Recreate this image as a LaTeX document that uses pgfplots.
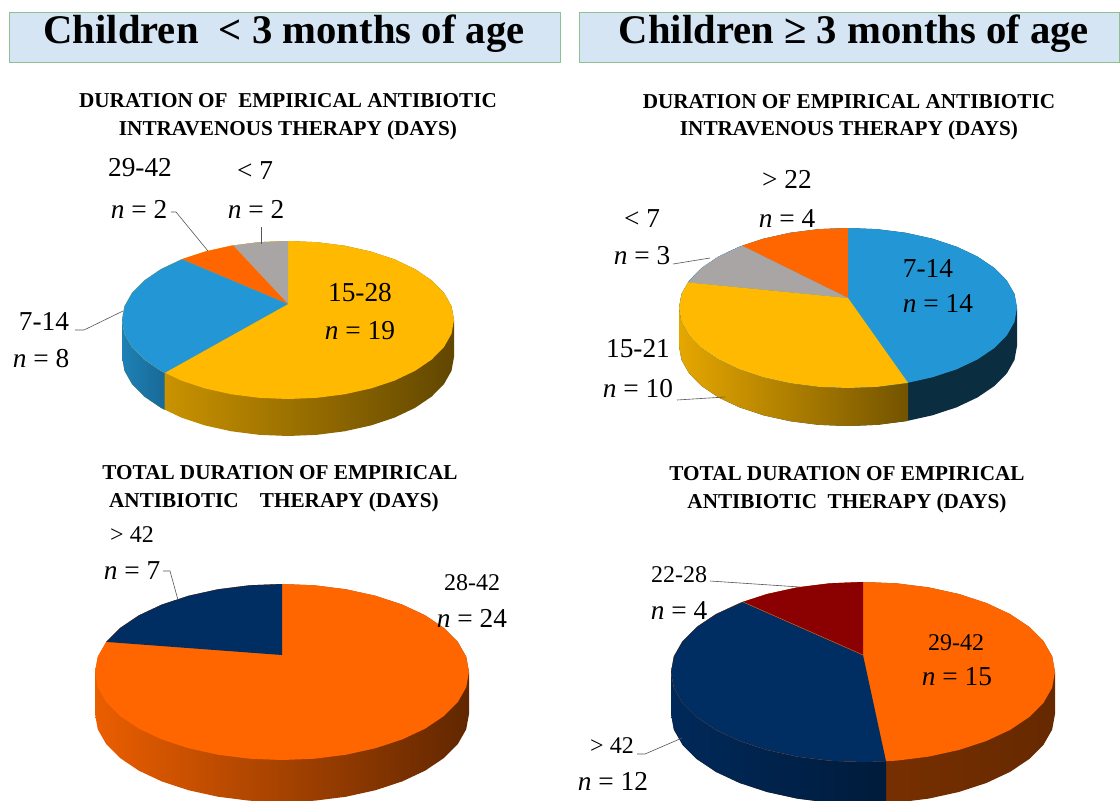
\documentclass[border=0pt]{standalone}
\usepackage{pgfplots}
\pgfplotsset{compat=1.18}
\usepackage{pgfplotstable}
\usepackage{fontspec}
\setmainfont{Liberation Serif}
\definecolor{gold}{HTML}{FFB900}
\definecolor{sky}{HTML}{2397D6}
\definecolor{grayw}{HTML}{A9A5A5}
\definecolor{orng}{HTML}{FF6600}
\definecolor{navy}{HTML}{002D62}
\definecolor{dred}{HTML}{8B0000}
\definecolor{boxf}{HTML}{D6E5F3}
\definecolor{boxe}{HTML}{8FC08F}
\definecolor{lead}{HTML}{555555}
\pgfplotstableread[row sep=\\]{
c s\\
1 0\\ .985 .174\\ .940 .342\\ .866 .5\\ .766 .643\\ .643 .766\\ .5 .866\\ .342 .940\\ .174 .985\\
0 1\\ -.174 .985\\ -.342 .940\\ -.5 .866\\ -.643 .766\\ -.766 .643\\ -.866 .5\\ -.940 .342\\ -.985 .174\\
-1 0\\ -.985 -.174\\ -.940 -.342\\ -.866 -.5\\ -.766 -.643\\ -.643 -.766\\ -.5 -.866\\ -.342 -.940\\ -.174 -.985\\
0 -1\\ .174 -.985\\ .342 -.940\\ .5 -.866\\ .643 -.766\\ .766 -.643\\ .866 -.5\\ .940 -.342\\ .985 -.174\\
}\unitEllipse
\pgfplotstableread[row sep=\\]{
c s d\\
1 0 0\\ .985 .174 0\\ .940 .342 0\\ .866 .5 0\\ .766 .643 0\\ .643 .766 0\\ .5 .866 0\\ .342 .940 0\\ .174 .985 0\\
0 1 0\\ -.174 .985 0\\ -.342 .940 0\\ -.5 .866 0\\ -.643 .766 0\\ -.766 .643 0\\ -.866 .5 0\\ -.940 .342 0\\ -.985 .174 0\\
-1 0 0\\ -1 0 1\\ -.985 -.174 1\\ -.940 -.342 1\\ -.866 -.5 1\\ -.766 -.643 1\\ -.643 -.766 1\\ -.5 -.866 1\\ -.342 -.940 1\\ -.174 -.985 1\\
0 -1 1\\ .174 -.985 1\\ .342 -.940 1\\ .5 -.866 1\\ .643 -.766 1\\ .766 -.643 1\\ .866 -.5 1\\ .940 -.342 1\\ .985 -.174 1\\ 1 0 1\\
}\unitSide
\newcommand{\FullFace}[5]{\addplot[#1,draw=none] table[x expr=#2+#4*\thisrow{c},y expr=#3-#5*\thisrow{s}] \unitEllipse -- cycle;}
\newcommand{\FullSide}[6]{\addplot[#1,draw=none] table[x expr=#2+#4*\thisrow{c},y expr=#3-#5*\thisrow{s}+#6*\thisrow{d}] \unitSide -- cycle;}
\newcommand{\Wedge}[6]{\addplot[#1,draw=none] table[row sep=\\,x expr=#2+#4*\thisrow{c},y expr=#3-#5*\thisrow{s}] {c s\\ #6} -- cycle;}
\newcommand{\SideP}[7]{\addplot[#1,draw=none] table[row sep=\\,x expr=#2+#4*\thisrow{c},y expr=#3-#5*\thisrow{s}+#6*\thisrow{d}] {c s d\\ #7} -- cycle;}
\newcommand{\Lead}[1]{\addplot[lead,line width=0.45pt] coordinates {#1};}
\newcommand{\Lab}[4]{\node[inner sep=0pt,text=black] at (axis cs:#1,#2) {\fontsize{#3}{#3}\selectfont #4};}
\newcommand{\Sub}[3]{\node[inner sep=0pt,text=black] at (axis cs:#1,#2) {\fontsize{15.9}{15.9}\selectfont\bfseries #3};}
\begin{document}
\begin{tikzpicture}
\begin{axis}[
  scale only axis, width=840pt, height=600pt,
  xmin=0,xmax=1120,ymin=0,ymax=800,y dir=reverse,
  hide axis, no markers, every axis plot/.append style={forget plot}]
% page extent
\addplot[fill=white,draw=none] coordinates {(0,0) (1120,0) (1120,800) (0,800)} -- cycle;
% title boxes
\addplot[fill=boxf,draw=boxe,line width=0.7pt] coordinates {(9,12) (560,12) (560,62) (9,62)} -- cycle;
\addplot[fill=boxf,draw=boxe,line width=0.7pt] coordinates {(579,12) (1119.6,12) (1119.6,62) (579,62)} -- cycle;
% --- pie 1
\FullSide{shade,left color=gold!85!black,middle color=gold!62!black,right color=gold!38!black}{288}{320}{166}{79}{37}
\SideP{shade,left color=sky!85!black,right color=sky!70!black}{288}{320}{166}{79}{37}{-1 0 0\\ -.985 -.174 0\\ -.940 -.342 0\\ -.866 -.5 0\\ -.766 -.643 0\\ -.743 -.669 0\\ -.743 -.669 1\\ -.766 -.643 1\\ -.866 -.5 1\\ -.940 -.342 1\\ -.985 -.174 1\\ -1 0 1\\}
\FullFace{fill=gold}{288}{320}{166}{79}
\Wedge{fill=grayw}{288}{320}{166}{79}{0 .2025\\ 0 1\\ -.174 .985\\ -.331 .944\\}
\Wedge{fill=orng}{288}{320}{166}{79}{0 .2025\\ -.331 .944\\ -.5 .866\\ -.639 .769\\}
\Wedge{fill=sky}{288}{320}{166}{79}{0 .2025\\ -.639 .769\\ -.766 .643\\ -.866 .5\\ -.940 .342\\ -.985 .174\\ -1 0\\ -.985 -.174\\ -.940 -.342\\ -.866 -.5\\ -.766 -.643\\ -.743 -.669\\}
% --- pie 2
\FullSide{fill=sky!30!black}{848}{308}{169}{80}{38}
\SideP{shade,left color=gold!90!black,right color=gold!45!black}{848}{308}{169}{80}{38}{-1 0 0\\ -.985 -.174 0\\ -.940 -.342 0\\ -.866 -.5 0\\ -.766 -.643 0\\ -.643 -.766 0\\ -.5 -.866 0\\ -.342 -.940 0\\ -.174 -.985 0\\ 0 -1 0\\ .174 -.985 0\\ .355 -.935 0\\ .355 -.935 1\\ .174 -.985 1\\ 0 -1 1\\ -.174 -.985 1\\ -.342 -.940 1\\ -.5 -.866 1\\ -.643 -.766 1\\ -.766 -.643 1\\ -.866 -.5 1\\ -.940 -.342 1\\ -.985 -.174 1\\ -1 0 1\\}
\FullFace{fill=sky}{848}{308}{169}{80}
\Wedge{fill=orng}{848}{308}{169}{80}{0 .125\\ 0 1\\ -.174 .985\\ -.342 .940\\ -.5 .866\\ -.627 .779\\}
\Wedge{fill=grayw}{848}{308}{169}{80}{0 .125\\ -.627 .779\\ -.766 .643\\ -.866 .5\\ -.947 .32\\}
\Wedge{fill=gold}{848}{308}{169}{80}{0 .125\\ -.947 .32\\ -.985 .174\\ -1 0\\ -.985 -.174\\ -.940 -.342\\ -.866 -.5\\ -.766 -.643\\ -.643 -.766\\ -.5 -.866\\ -.342 -.940\\ -.174 -.985\\ 0 -1\\ .174 -.985\\ .355 -.935\\}
% --- pie 3
\FullSide{shade,left color=orng!92!black,middle color=orng!62!black,right color=orng!38!black}{282}{672}{187}{88}{42}
\FullFace{fill=orng}{282}{672}{187}{88}
\Wedge{fill=navy}{282}{672}{187}{88}{0 .193\\ 0 1\\ -.174 .985\\ -.342 .940\\ -.5 .866\\ -.643 .766\\ -.766 .643\\ -.866 .5\\ -.940 .342\\}
% --- pie 4
\FullSide{shade,left color=orng!55!black,right color=orng!40!black}{863}{672}{192}{90}{42}
\SideP{shade,left color=navy!92!black,right color=navy!60!black}{863}{672}{192}{90}{42}{-1 0 0\\ -.985 -.174 0\\ -.940 -.342 0\\ -.866 -.5 0\\ -.766 -.643 0\\ -.643 -.766 0\\ -.5 -.866 0\\ -.342 -.940 0\\ -.174 -.985 0\\ 0 -1 0\\ .12 -.993 0\\ .12 -.993 1\\ 0 -1 1\\ -.174 -.985 1\\ -.342 -.940 1\\ -.5 -.866 1\\ -.643 -.766 1\\ -.766 -.643 1\\ -.866 -.5 1\\ -.940 -.342 1\\ -.985 -.174 1\\ -1 0 1\\}
\FullFace{fill=orng}{863}{672}{192}{90}
\Wedge{fill=navy}{863}{672}{192}{90}{0 .189\\ -.625 .78\\ -.766 .643\\ -.866 .5\\ -.940 .342\\ -.985 .174\\ -1 0\\ -.985 -.174\\ -.940 -.342\\ -.866 -.5\\ -.766 -.643\\ -.643 -.766\\ -.5 -.866\\ -.342 -.940\\ -.174 -.985\\ 0 -1\\ .12 -.993\\}
\Wedge{fill=dred}{863}{672}{192}{90}{0 .189\\ 0 1\\ -.174 .985\\ -.342 .940\\ -.5 .866\\ -.625 .78\\}
\addplot[color=orng!70!gray,line width=0.3pt] coordinates {(743,602) (863,655)};
% leaders
\Lead{(171,212) (176,212) (208,251)}
\Lead{(261,227) (261,244)}
\Lead{(75,330) (84,330) (123,311)}
\Lead{(673,264) (710,258)}
\Lead{(677,400) (725,397)}
\Lead{(163,571) (170,571) (178,600)}
\Lead{(710,581) (800,587)}
\Lead{(637,754) (645,754) (682,738)}
% titles
\node[inner sep=0pt] at (axis cs:284,34) {\fontsize{30.5}{30.5}\selectfont\bfseries Children\ \ < 3 months of age};
\node[inner sep=0pt] at (axis cs:854,34) {\fontsize{30.5}{30.5}\selectfont\bfseries Children ≥ 3 months of age};
\Sub{288}{101}{DURATION OF\ \ EMPIRICAL ANTIBIOTIC}
\Sub{288}{130}{INTRAVENOUS THERAPY (DAYS)}
\Sub{849}{102}{DURATION OF EMPIRICAL ANTIBIOTIC}
\Sub{849}{130}{INTRAVENOUS THERAPY (DAYS)}
\Sub{280}{473}{TOTAL DURATION OF EMPIRICAL}
\Sub{274}{502}{ANTIBIOTIC\ \ \ \ THERAPY (DAYS)}
\Sub{847}{474}{TOTAL DURATION OF EMPIRICAL}
\Sub{847}{503}{ANTIBIOTIC\ \ THERAPY (DAYS)}
% labels
\Lab{140}{168}{20.5}{29-42}
\Lab{139}{209}{20.5}{\textit{n} = 2}
\Lab{255}{171}{20.5}{< 7}
\Lab{256}{209}{20.5}{\textit{n} = 2}
\Lab{360}{293}{20.5}{15-28}
\Lab{360}{331}{20.5}{\textit{n} = 19}
\Lab{44}{321}{20.5}{7-14}
\Lab{41}{359}{20.5}{\textit{n} = 8}
\Lab{787}{179}{20.5}{> 22}
\Lab{787}{218}{20.5}{\textit{n} = 4}
\Lab{642}{219}{20.5}{< 7}
\Lab{642}{256}{20.5}{\textit{n} = 3}
\Lab{928}{268}{20.5}{7-14}
\Lab{938}{303}{20.5}{\textit{n} = 14}
\Lab{638}{349}{20.5}{15-21}
\Lab{638}{389}{20.5}{\textit{n} = 10}
\Lab{132}{535}{18}{> 42}
\Lab{132}{571}{20.5}{\textit{n} = 7}
\Lab{472}{583}{18}{28-42}
\Lab{472}{618}{20.5}{\textit{n} = 24}
\Lab{679}{575}{18}{22-28}
\Lab{679}{610}{20.5}{\textit{n} = 4}
\Lab{956}{643}{18}{29-42}
\Lab{957}{677}{20.5}{\textit{n} = 15}
\Lab{612}{746}{18}{> 42}
\Lab{613}{781}{20.5}{\textit{n} = 12}
\end{axis}
\end{tikzpicture}
\end{document}
